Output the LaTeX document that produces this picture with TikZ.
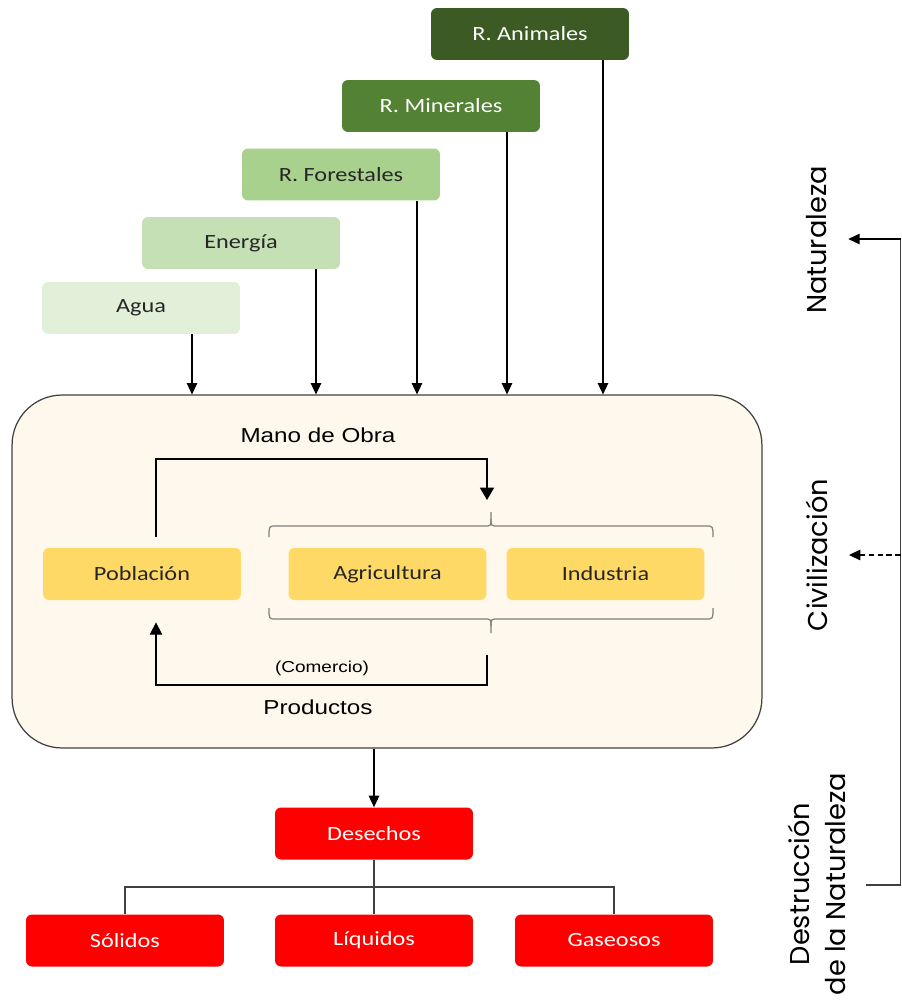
\documentclass[tikz,border=0pt]{standalone}
\usepackage{fontspec}
\setmainfont{Carlito}
\newfontfamily\boxfont[FakeStretch=1.2]{Carlito}
\newfontfamily\flowfont[FakeStretch=1.2]{Liberation Sans}
\newfontfamily\sidefont{Poppins}
\usetikzlibrary{arrows.meta}

\definecolor{animalgreen}{HTML}{3B5A24}
\definecolor{mineralgreen}{HTML}{548235}
\definecolor{forestgreen}{HTML}{A9D18E}
\definecolor{energygreen}{HTML}{C5E0B4}
\definecolor{watergreen}{HTML}{E2F0D9}
\definecolor{civcream}{HTML}{FFF8EC}
\definecolor{sectoryellow}{HTML}{FFD966}
\definecolor{wastered}{HTML}{FF0000}
\definecolor{textgray}{HTML}{262626}
\definecolor{linegray}{HTML}{404040}

\begin{document}
\begin{tikzpicture}[x=0.02cm, y=-0.02cm]

    \tikzset{
      resbox/.style={
        rounded corners=0.12cm,
        minimum width=3.96cm,
        minimum height=1.04cm,
        inner sep=0pt,
        text=textgray,
        font=\boxfont\fontsize{11.5}{13}\selectfont,
      },
      arr/.style={line width=0.6pt, -{Triangle[length=6.5pt,width=6pt]}},
      conn/.style={line width=0.6pt, draw=linegray},
      brc/.style={line width=0.7pt, draw=gray},
      flowlabel/.style={font=\flowfont\fontsize{11.5}{13}\selectfont, inner sep=0pt},
      sidelabel/.style={rotate=90, font=\sidefont\fontsize{15.5}{20.5}\selectfont, align=center, inner sep=0pt, outer sep=12pt},
    }
    \useasboundingbox (0,0) rectangle (902,1004);

    % recursos
    \node[resbox, fill=animalgreen, text=white] (animales) at (530,34) {R. Animales};
    \node[resbox, fill=mineralgreen, text=white] (minerales) at (441,106) {R. Minerales};
    \node[resbox, fill=forestgreen] (forestales) at (341,174.5) {R. Forestales};
    \node[resbox, fill=energygreen] (energia) at (241,243) {Energía};
    \node[resbox, fill=watergreen] (agua) at (141,308) {Agua};

    % civilizacion
    \node[draw=linegray, line width=0.7pt, fill=civcream, rounded corners=1cm,
          minimum width=15cm, minimum height=7.06cm] (civ) at (387,571.5) {};
    \node[resbox, fill=sectoryellow] (poblacion) at (142,574) {Población};
    \node[resbox, fill=sectoryellow] (agricultura) at (387.5,574) {Agricultura};
    \node[resbox, fill=sectoryellow] (industria) at (605.5,574) {Industria};

    \foreach \src/\xx in {agua/192, energia/316, forestales/417, minerales/507, animales/603}
      \draw[arr] (\src.south -| \xx,0) -- (civ.north -| \xx,0);

    \node[flowlabel] (manolbl) at (318,435) {Mano de Obra};
    \node[flowlabel, font=\flowfont\fontsize{9}{11}\selectfont] (comercio) at (322,668) {(Comercio)};
    \node[flowlabel] (productos) at (318,707) {Productos};

    % llaves
    \draw[brc] (269,537) .. controls (269,526) .. (276,526) -- (484,526) .. controls (491,526) .. (491,519) -- (491,512);
    \draw[brc] (491,519) .. controls (491,526) .. (498,526) -- (706,526) .. controls (713,526) .. (713,537);
    \draw[brc] (269,608) .. controls (269,619) .. (276,619) -- (484,619) .. controls (491,619) .. (491,626) -- (491,633);
    \draw[brc] (491,626) .. controls (491,619) .. (498,619) -- (706,619) .. controls (713,619) .. (713,608);

    \coordinate (manotop) at (487,459);
    \coordinate (manoend) at (487,500);
    \draw[arr, -{Triangle[length=7pt,width=8pt]}] ([shift={(14,-11)}]poblacion.north) |- (manotop) -- (manoend);
    \coordinate (prodstart) at (487,655);
    \coordinate (prodcorner) at (156,685);
    \draw[arr, -{Triangle[length=7pt,width=7pt]}] (prodstart) |- (prodcorner) -- ([shift={(14,22)}]poblacion.south);

    % desechos
    \node[resbox, fill=wastered, text=white] (desechos) at (374,833.5) {Desechos};
    \node[resbox, fill=wastered, text=white] (solidos) at (125,940.5) {Sólidos};
    \node[resbox, fill=wastered, text=white] (liquidos) at (374,940.5) {Líquidos};
    \node[resbox, fill=wastered, text=white] (gaseosos) at (614,940.5) {Gaseosos};

    \draw[arr] (civ.south -| desechos.north) -- (desechos.north);
    \coordinate (split) at (374,887);
    \draw[conn] (desechos.south) -- (liquidos.north);
    \draw[conn] (solidos.north) |- (split) -| (gaseosos.north);

    % etapas
    \node[sidelabel] (naturaleza) at (817,240) {Naturaleza};
    \node[sidelabel] (civilizacion) at (817,555) {Civilización};
    \node[sidelabel] (destruccion) at (817,884) {Destrucción\\de la Naturaleza};

    \coordinate (rtop) at (900.5,239);
    \coordinate (rmid) at (900.5,555);
    \coordinate (rbot) at (900.5,885);
    \coordinate (rfoot) at (866,885);
    \draw[conn] (rfoot) -- (rbot) -- (rtop);
    \draw[arr] (rtop) -- (rtop -| naturaleza.south);
    \draw[arr, densely dashed] (rmid) -- (rmid -| civilizacion.south);

\end{tikzpicture}
\end{document}
